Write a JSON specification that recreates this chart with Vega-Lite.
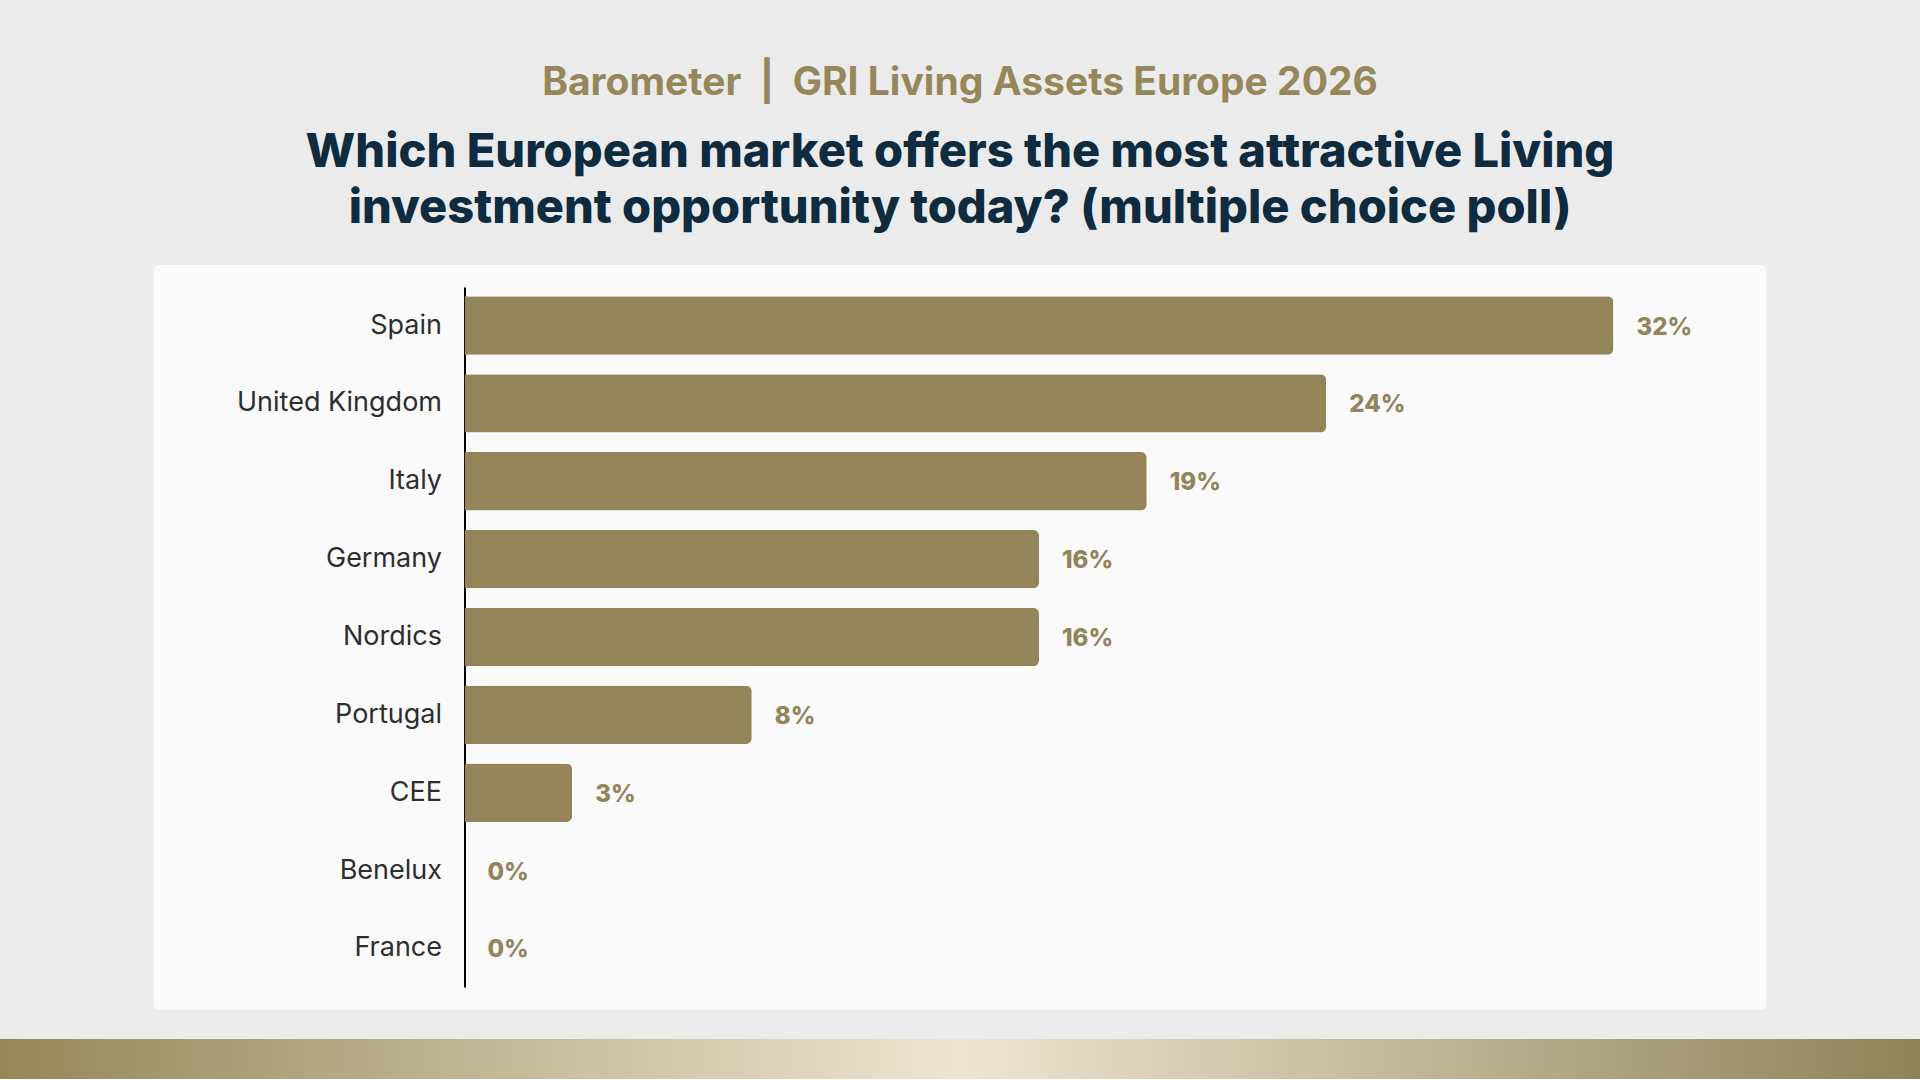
{
  "$schema": "https://vega.github.io/schema/vega-lite/v6.json",
  "background": "#ebebeb",
  "padding": {"left": 0, "right": 0, "top": 64, "bottom": 0},
  "title": {
    "text": "Barometer\u00a0\u00a0|\u00a0\u00a0GRI Living Assets Europe 2026",
    "subtitle": [
      "Which European market offers the most attractive Living",
      "investment opportunity today? (multiple choice poll)"
    ],
    "anchor": "middle",
    "font": "Inter",
    "fontSize": 39,
    "fontWeight": 700,
    "color": "#958759",
    "subtitleFont": "Inter",
    "subtitleFontSize": 47,
    "subtitleFontWeight": 800,
    "subtitleColor": "#0f2b40",
    "subtitleLineHeight": 56,
    "subtitlePadding": 27,
    "offset": 33
  },
  "vconcat": [
    {
      "width": 1613,
      "height": 745,
      "view": {"fill": "#fafafa", "stroke": null, "cornerRadius": 6},
      "data": {
        "values": [
          {"market": "Spain", "share": 0.32},
          {"market": "United Kingdom", "share": 0.24},
          {"market": "Italy", "share": 0.19},
          {"market": "Germany", "share": 0.16},
          {"market": "Nordics", "share": 0.16},
          {"market": "Portugal", "share": 0.08},
          {"market": "CEE", "share": 0.03},
          {"market": "Benelux", "share": 0},
          {"market": "France", "share": 0}
        ]
      },
      "encoding": {
        "y": {
          "field": "market",
          "type": "nominal",
          "sort": null,
          "title": null,
          "scale": {"range": [22, 722], "paddingInner": 0.25, "paddingOuter": 0.12},
          "axis": {
            "offset": -311,
            "domainColor": "#000000",
            "domainWidth": 2,
            "ticks": false,
            "tickSize": 0,
            "labelPadding": 23,
            "labelLimit": 400,
            "labelFont": "Inter",
            "labelFontSize": 27,
            "labelColor": "#2e2e2e",
            "grid": false
          }
        },
        "x": {
          "field": "share",
          "type": "quantitative",
          "scale": {"domain": [0, 0.32], "range": [311, 1460], "nice": false},
          "axis": null
        }
      },
      "layer": [
        {
          "mark": {"type": "bar", "color": "#93845a", "cornerRadiusEnd": 6}
        },
        {
          "mark": {
            "type": "text",
            "align": "left",
            "baseline": "middle",
            "dx": 23,
            "dy": 2,
            "font": "Inter",
            "fontSize": 24,
            "fontWeight": 800,
            "color": "#93845a"
          },
          "encoding": {
            "text": {"field": "share", "type": "quantitative", "format": ".0%"}
          }
        }
      ]
    },
    {
      "width": 1920,
      "height": 40,
      "view": {"stroke": null},
      "data": {"values": [{"strip": "band"}]},
      "mark": {
        "type": "rect",
        "fill": {
          "gradient": "linear",
          "x1": 0, "y1": 0, "x2": 1, "y2": 0,
          "stops": [
            {"offset": 0, "color": "#968759"},
            {"offset": 0.5, "color": "#ece6d1"},
            {"offset": 1, "color": "#8f8258"}
          ]
        }
      },
      "encoding": {}
    }
  ],
  "spacing": 29,
  "center": true,
  "config": {
    "font": "Inter",
    "concat": {"spacing": 29}
  }
}
